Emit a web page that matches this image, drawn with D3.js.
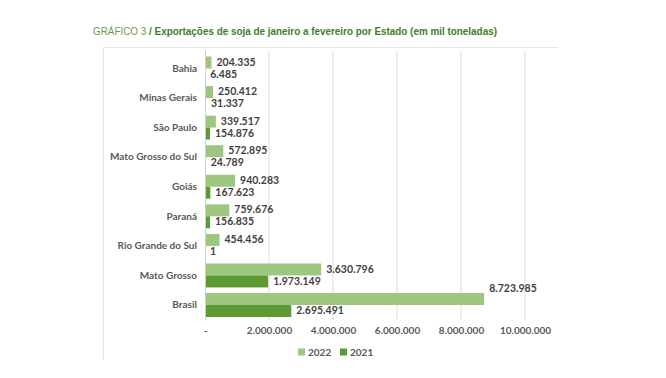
<!DOCTYPE html>
<html><head><meta charset="utf-8">
<script src="https://cdn.jsdelivr.net/npm/d3@7"></script>
<style>body{margin:0;background:#fff}svg{display:block}</style>
</head><body>
<svg id="c" width="666" height="378"></svg>
<script>
const categories = ["Bahia","Minas Gerais","São Paulo","Mato Grosso do Sul","Goiás","Paraná","Rio Grande do Sul","Mato Grosso","Brasil"];
const values2022 = [204335,250412,339517,572895,940283,759676,454456,3630796,8723985];
const values2021 = [6485,31337,154876,24789,167623,156835,1,1973149,2695491];
const seriesNames = ["2022","2021"];
const tickValues = [0,2000000,4000000,6000000,8000000,10000000];
const colors = {"2022":"#9dc67f","2021":"#5e9a32"};

const fmt = v => v === 0 ? "-" : d3.format(",")(v).replace(/,/g,".");
const svg = d3.select("#c");
const font = "Lato, 'Open Sans', sans-serif";

// frame
svg.append("line").attr("x1",103).attr("x2",558).attr("y1",47.5).attr("y2",47.5).attr("stroke","#e6e6e6");
svg.append("line").attr("x1",103.5).attr("x2",103.5).attr("y1",47).attr("y2",360).attr("stroke","#e6e6e6");

// title
const t = svg.append("text").attr("transform","translate(93,35) scale(0.9,1)")
  .attr("font-family","'Liberation Sans',Arial,sans-serif").attr("font-size",11);
t.append("tspan").attr("fill","#6e9a55").text("GRÁFICO 3 ");
t.append("tspan").attr("fill","#3f7d2c").attr("font-weight","bold").text("/ Exportações de soja de janeiro a fevereiro por Estado (em mil toneladas)");

const x = d3.scaleLinear().domain([0,10000000]).range([205,525]);
const y = d3.scaleBand().domain(categories).range([53.7,319.8]).paddingInner(0.19).paddingOuter(0.095);
const y2 = d3.scaleBand().domain(seriesNames).range([0,y.bandwidth()]);

// grid
svg.append("g").selectAll("line").data(tickValues.slice(1)).join("line")
  .attr("x1",d=>x(d)).attr("x2",d=>x(d)).attr("y1",50).attr("y2",320)
  .attr("stroke","#dedede").attr("stroke-width",1);

// x axis
const xa = svg.append("g").attr("transform","translate(0,320)")
  .call(d3.axisBottom(x).tickValues(tickValues).tickFormat(fmt).tickSize(0).tickPadding(7));
xa.select(".domain").remove();
xa.selectAll("text").attr("font-family",font).attr("font-weight","bold").attr("font-size",10).attr("fill","#595959");

const data = categories.map((c,i)=>({cat:c, vals:[{s:"2022",v:values2022[i]},{s:"2021",v:values2021[i]}]}));

const g = svg.append("g").selectAll("g").data(data).join("g").attr("transform",d=>`translate(0,${y(d.cat)})`);
g.selectAll("rect").data(d=>d.vals).join("rect")
  .attr("x",x(0)).attr("y",d=>y2(d.s)).attr("width",d=>x(d.v)-x(0)).attr("height",y2.bandwidth())
  .attr("fill",d=>colors[d.s]);
g.selectAll("text").data(d=>d.vals.map(o=>({...o,cat:d.cat}))).join("text")
  .attr("x",d=>x(d.v)+5).attr("y",d=>y2(d.s)+y2.bandwidth()/2 + (d.cat==="Brasil"&&d.s==="2022"? -10:0))
  .attr("dy","0.3em").attr("font-family",font).attr("font-weight","bold").attr("font-size",10.5)
  .attr("fill","#3f3f3f").text(d=>fmt(d.v));

// y axis
const ya = svg.append("g").attr("transform",`translate(${x(0)},0)`)
  .call(d3.axisLeft(y).tickSize(0).tickPadding(8));
ya.select(".domain").attr("stroke","#d0d0d0").attr("d",`M0.5,${50}V320`);
ya.selectAll("text").attr("font-family",font).attr("font-weight","bold").attr("font-size",10).attr("fill","#595959");

// legend
const lg = svg.append("g").attr("transform","translate(298,352)");
seriesNames.forEach((s,i)=>{
  const gg = lg.append("g").attr("transform",`translate(${i*42},0)`);
  gg.append("rect").attr("x",0).attr("y",-3.5).attr("width",7).attr("height",7).attr("fill",colors[s]);
  gg.append("text").attr("x",10).attr("dy","0.35em").attr("font-family",font).attr("font-weight","bold").attr("font-size",10).attr("fill","#595959").text(s);
});
</script>
</body></html>
